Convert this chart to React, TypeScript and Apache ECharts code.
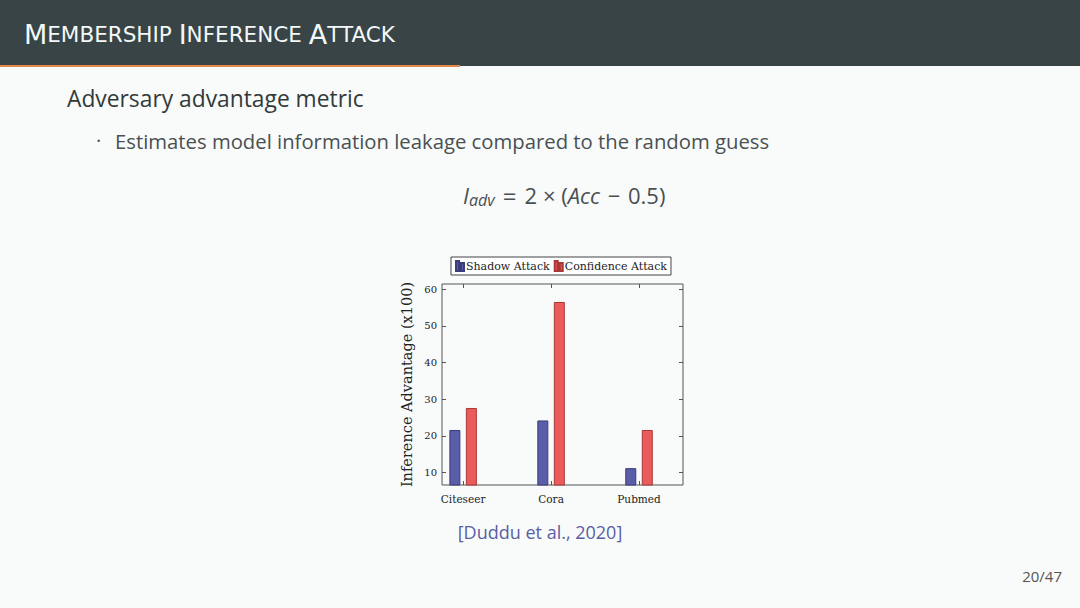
import React, { useEffect, useRef } from "react";
import * as echarts from "echarts";

const categories = ["Citeseer", "Cora", "Pubmed"];
const shadowAttack = [21.6, 24.2, 11.2];
const confidenceAttack = [27.6, 56.5, 21.6];
const yTicks = [10, 20, 30, 40, 50, 60];
const seriesNames = ["Shadow Attack", "Confidence Attack"];

const SERIF = "DejaVu Serif";
const SANS = "Open Sans";
const TITLE_FONT = "DejaVu Sans";

export default function App() {
  const ref = useRef<HTMLDivElement>(null);
  useEffect(() => {
    if (!ref.current) return;
    const chart = echarts.init(ref.current, undefined, { renderer: "svg" });
    const catIdx = categories.map((_, i) => i);
    const tickCommon = {
      inside: true,
      length: 4,
      customValues: catIdx,
      lineStyle: { color: "#555", width: 1 },
    };
    const yTickCommon = {
      inside: true,
      length: 4,
      customValues: yTicks,
      lineStyle: { color: "#555", width: 1 },
    };
    const icon = "path://M0,0L3,0L3,10L0,10Z M5,2L8,2L8,10L5,10Z";
    const mathColor = "#4a5052";
    chart.setOption({
      animation: false,
      backgroundColor: "#f8fbfa",
      textStyle: { fontFamily: SERIF },
      graphic: [
        { type: "rect", shape: { x: 0, y: 0, width: 1080, height: 66 }, style: { fill: "#384446" } },
        { type: "rect", shape: { x: 0, y: 65, width: 460, height: 2 }, style: { fill: "#e4894a" } },
        {
          type: "text",
          x: 24,
          y: 34,
          style: {
            text: "{b|M}{s|EMBERSHIP}{sp| }{b|I}{s|NFERENCE}{sp| }{b|A}{s|TTACK}",
            verticalAlign: "middle",
            fontFamily: TITLE_FONT,
            fontSize: 21.5,
            fill: "#f4f8f8",
            rich: {
              b: { fontFamily: TITLE_FONT, fontSize: 27, fill: "#f4f8f8" },
              s: { fontFamily: TITLE_FONT, fontSize: 21.5, fill: "#f4f8f8" },
              sp: { fontFamily: TITLE_FONT, fontSize: 21.5, fill: "#f4f8f8" },
            },
          },
        },
        {
          type: "text",
          x: 67,
          y: 98,
          style: {
            text: "Adversary advantage metric",
            fontFamily: SANS,
            fontSize: 22.8,
            fill: "#333a3b",
            verticalAlign: "middle",
          },
        },
        {
          type: "text",
          x: 96,
          y: 140,
          style: { text: "·", fontFamily: SANS, fontSize: 20, fill: "#555", verticalAlign: "middle" },
        },
        {
          type: "text",
          x: 115,
          y: 141,
          style: {
            text: "Estimates model information leakage compared to the random guess",
            fontFamily: SANS,
            fontSize: 20.3,
            fill: "#4a5052",
            verticalAlign: "middle",
          },
        },
        {
          type: "text",
          x: 463,
          y: 195,
          style: {
            text: "{it|I}{sub|adv}{op|=}{n|2}{op2|×}{n|(}{it|Acc}{op3|−}{n|0.5)}",
            align: "left",
            verticalAlign: "middle",
            fontFamily: SANS,
            fontSize: 22,
            fill: mathColor,
            rich: {
              it: { fontFamily: SANS, fontStyle: "italic", fontSize: 22, fill: mathColor },
              sub: { fontFamily: SANS, fontStyle: "italic", fontSize: 16, fill: mathColor, padding: [9, 0, 0, 0] },
              n: { fontFamily: SANS, fontSize: 22, fill: mathColor },
              op: { fontFamily: SANS, fontSize: 24, fill: mathColor, width: 30, align: "center" },
              op2: { fontFamily: SANS, fontSize: 22, fill: mathColor, width: 24, align: "center" },
              op3: { fontFamily: SANS, fontSize: 22, fill: mathColor, width: 28, align: "center" },
            },
          },
        },
        {
          type: "text",
          x: 540,
          y: 532,
          style: {
            text: "[Duddu et al., 2020]",
            align: "center",
            verticalAlign: "middle",
            fontFamily: SANS,
            fontSize: 18,
            fill: "#5a5ea3",
          },
        },
        {
          type: "text",
          x: 1062,
          y: 576,
          style: {
            text: "20/47",
            align: "right",
            verticalAlign: "middle",
            fontFamily: SANS,
            fontSize: 15,
            fill: "#555",
          },
        },
      ],
      legend: {
        data: seriesNames,
        left: 451,
        top: 257,
        icon,
        itemWidth: 8,
        itemHeight: 11,
        itemGap: 4,
        padding: [3, 4, 3, 4],
        borderColor: "#444",
        borderWidth: 1,
        backgroundColor: "#ffffff",
        textStyle: { fontFamily: SERIF, fontSize: 11, color: "#222", padding: [0, 0, 0, -3] },
      },
      grid: {
        left: 442,
        right: 397,
        top: 284,
        bottom: 123,
        show: true,
        borderColor: "#555",
        borderWidth: 1,
        backgroundColor: "transparent",
      },
      xAxis: [
        {
          type: "value",
          min: -0.24,
          max: 2.5,
          position: "bottom",
          axisLine: { show: false, onZero: false },
          splitLine: { show: false },
          axisTick: tickCommon,
          axisLabel: {
            customValues: catIdx,
            formatter: (v: number) => categories[Math.round(v)] ?? "",
            fontFamily: SERIF,
            fontSize: 10.5,
            color: "#222",
            margin: 8,
          },
        },
        {
          type: "value",
          min: -0.24,
          max: 2.5,
          position: "top",
          axisLine: { show: false, onZero: false },
          splitLine: { show: false },
          axisTick: tickCommon,
          axisLabel: { show: false },
        },
      ],
      yAxis: [
        {
          type: "value",
          min: 6.6,
          max: 61.4,
          position: "left",
          axisLine: { show: false, onZero: false },
          splitLine: { show: false },
          axisTick: yTickCommon,
          axisLabel: {
            customValues: yTicks,
            fontFamily: SERIF,
            fontSize: 10,
            color: "#222",
            margin: 5,
          },
          name: "Inference Advantage (x100)",
          nameLocation: "middle",
          nameGap: 28,
          nameTextStyle: { fontFamily: SERIF, fontSize: 14.5, color: "#222" },
        },
        {
          type: "value",
          min: 6.6,
          max: 61.4,
          position: "right",
          axisLine: { show: false, onZero: false },
          splitLine: { show: false },
          axisTick: yTickCommon,
          axisLabel: { show: false },
        },
      ],
      series: [
        {
          name: seriesNames[0],
          type: "bar",
          xAxisIndex: 0,
          yAxisIndex: 0,
          barWidth: 11,
          barGap: "50%",
          data: catIdx.map((i) => [i, shadowAttack[i]]),
          itemStyle: { color: "#5a5da8", borderColor: "#3b3d7a", borderWidth: 1 },
        },
        {
          name: seriesNames[1],
          type: "bar",
          xAxisIndex: 0,
          yAxisIndex: 0,
          barWidth: 11,
          barGap: "50%",
          data: catIdx.map((i) => [i, confidenceAttack[i]]),
          itemStyle: { color: "#ec5b5b", borderColor: "#a83838", borderWidth: 1 },
        },
      ],
    });
    return () => chart.dispose();
  }, []);
  return (
    <div
      ref={ref}
      style={{ position: "fixed", left: 0, top: 0, width: 1080, height: 608 }}
    />
  );
}
